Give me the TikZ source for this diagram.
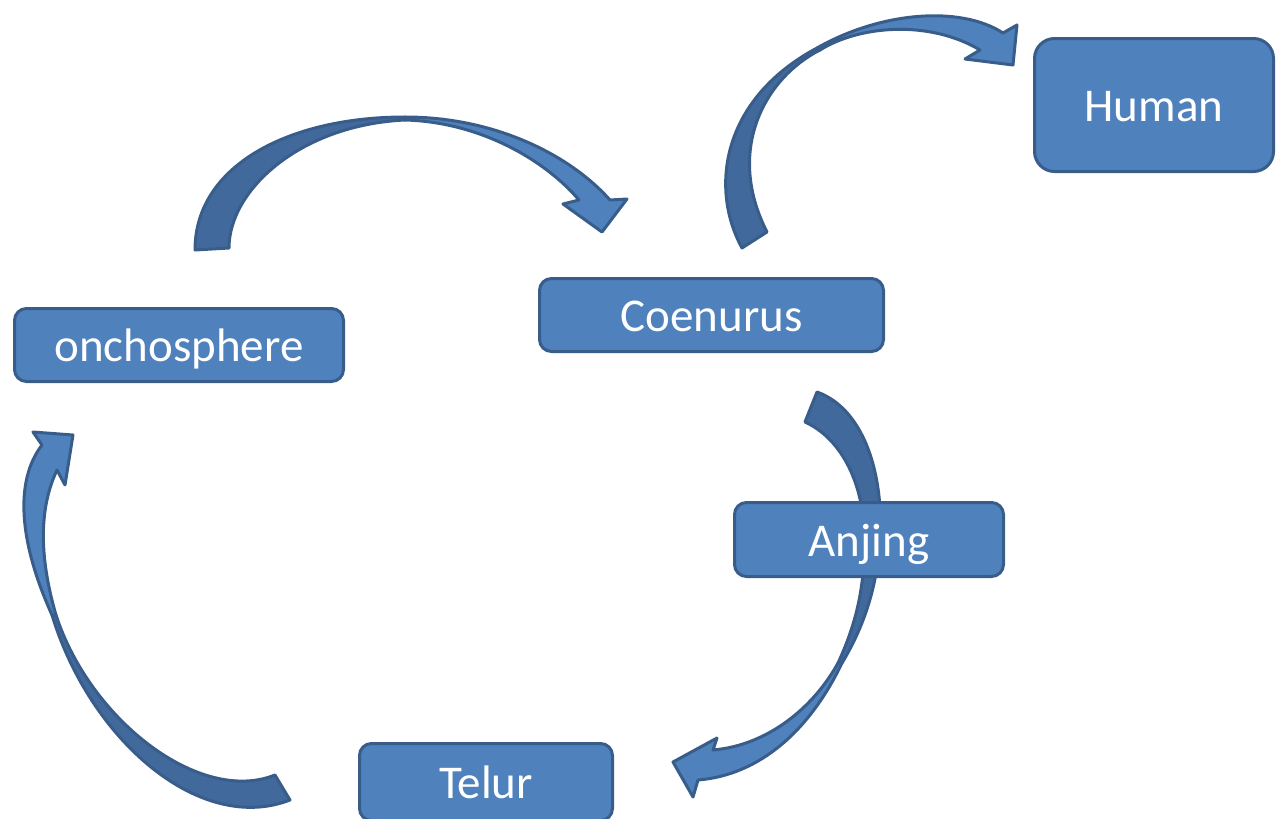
\documentclass[tikz,border=0pt]{standalone}
\usepackage{fontspec}
\setmainfont{Carlito}
\usepackage{tikz}

\definecolor{boxfill}{HTML}{4F81BD}
\definecolor{boxline}{HTML}{385D8A}
\definecolor{banddark}{HTML}{41699C}

\tikzset{stage/.style={draw=boxline,fill=boxfill,line width=3pt,
                       rounded corners=12pt,text=white,
                       font=\fontsize{47}{56}\selectfont,
                       text height=42pt,text depth=8.5pt},
         bandlight/.style={draw=boxline,fill=boxfill,line width=3pt,line join=round},
         banddark/.style={draw=boxline,fill=banddark,line width=3pt,line join=round}}

\begin{document}
\begin{tikzpicture}[x=1pt,y=-1pt]

\useasboundingbox (0,0) rectangle (1285,819);

% onchosphere -> Coenurus
\filldraw[banddark] (195,250) .. controls (195,165) and (290,117) .. (405,117)
      -- (405,120) .. controls (300,125) and (229,190) .. (229,248) -- cycle;
\filldraw[bandlight] (405,117) .. controls (495,117) and (570,155) .. (610,200)
      -- (627,199) -- (602,232) -- (563,204) -- (579,200)
      .. controls (545,160) and (480,122) .. (405,120) -- cycle;

% Coenurus -> Human
\filldraw[banddark] (742,248) .. controls (710,190) and (720,100) .. (817,48)
      -- (820,50) .. controls (765,78) and (725,150) .. (767,232) -- cycle;
\filldraw[bandlight] (817,48) .. controls (880,12) and (960,5) .. (1003,33)
      -- (1017,25) -- (1013,65) -- (965,59) -- (980,50)
      .. controls (930,20) and (860,25) .. (820,50) -- cycle;

% Coenurus -> Anjing -> Telur
\filldraw[banddark] (817,392) .. controls (862,408) and (884,470) .. (880,540)
      .. controls (877,590) and (862,630) .. (842,663)
      -- (838,663) .. controls (858,620) and (866,580) .. (864,530)
      .. controls (862,480) and (840,438) .. (805,422) -- cycle;
\filldraw[bandlight] (842,663) .. controls (810,730) and (760,775) .. (698,780)
      -- (693,797) -- (673,762) -- (717,738) -- (713,750)
      .. controls (770,745) and (815,705) .. (838,663) -- cycle;

% Telur -> onchosphere
\filldraw[banddark] (290,800) .. controls (200,835) and (90,740) .. (52,615)
      -- (56,615) .. controls (90,720) and (200,805) .. (275,775) -- cycle;
\filldraw[bandlight] (52,615) .. controls (18,540) and (15,480) .. (42,445)
      -- (33,432) -- (73,435) -- (65,485) -- (57,470)
      .. controls (38,510) and (40,560) .. (56,615) -- cycle;

\draw node[stage,minimum width=329pt,minimum height=73pt] (onch) at (179,345) {onchosphere}
      node[stage,minimum width=344pt,minimum height=73pt] (coen) at (711.5,315) {Coenurus}
      node[stage,minimum width=239pt,minimum height=133pt,rounded corners=20pt] (human) at (1154,105) {Human}
      node[stage,minimum width=269pt,minimum height=74pt] (anjing) at (869,539.5) {Anjing}
      node[stage,minimum width=253pt,minimum height=77pt] (telur) at (486,782) {Telur};

\end{tikzpicture}
\end{document}
